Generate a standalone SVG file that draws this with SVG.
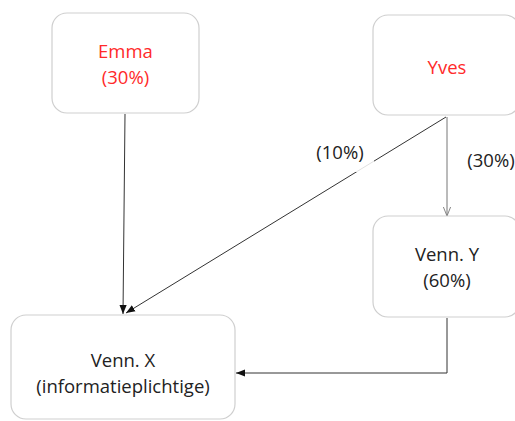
<svg xmlns="http://www.w3.org/2000/svg" width="515" height="421" viewBox="0 0 515 421">
<style>
.box{fill:#fff;stroke:#cfcfcf;stroke-width:1.2}
.t{font-family:"Open Sans","Noto Sans",sans-serif;font-size:18.5px;text-anchor:middle;fill:#222}
.r{fill:#ff2a2a}
.c{fill:none;stroke:#333;stroke-width:1}
.g{fill:none;stroke:#777;stroke-width:1}
</style>
<defs>
<marker id="solid" viewBox="0 0 10 10" refX="10" refY="5" markerWidth="9" markerHeight="9" orient="auto" markerUnits="userSpaceOnUse"><path d="M0,1 L10,5 L0,9 Z" fill="#111"/></marker>
<marker id="open" viewBox="0 0 10 10" refX="10" refY="5" markerWidth="9" markerHeight="9" orient="auto" markerUnits="userSpaceOnUse"><path d="M0,1 L10,5 L0,9" fill="none" stroke="#777" stroke-width="1"/></marker>
</defs>
<rect width="515" height="421" fill="#fff"/>
<g id="connectors">
<line class="c" x1="125" y1="114" x2="123" y2="314" marker-end="url(#solid)"/>
<line class="c" x1="446" y1="117" x2="126" y2="313" marker-end="url(#solid)"/>
<line class="g" x1="447" y1="117" x2="447" y2="216" marker-end="url(#open)"/>
<polyline class="c" points="447,318 447,373 236,373" marker-end="url(#solid)"/>
<rect x="306" y="132" width="68" height="40" fill="#fff" opacity="0.85"/>
<text class="t" x="340" y="159">(10%)</text>
<rect x="464" y="140" width="51" height="40" fill="#fff"/>
<text class="t" x="491" y="167">(30%)</text>
</g>
<g id="emma">
<rect class="box" x="52" y="13" width="147" height="100" rx="15"/>
<text class="t r" x="125.5" y="58">Emma</text>
<text class="t r" x="125.5" y="84">(30%)</text>
</g>
<g id="yves">
<rect class="box" x="373" y="15" width="147" height="100" rx="15"/>
<text class="t r" x="447" y="74">Yves</text>
</g>
<g id="vennY">
<rect class="box" x="373" y="216" width="147" height="101" rx="15"/>
<text class="t" x="447" y="261">Venn. Y</text>
<text class="t" x="447" y="287">(60%)</text>
</g>
<g id="vennX">
<rect class="box" x="11" y="315" width="224" height="104" rx="15"/>
<text class="t" x="123" y="367">Venn. X</text>
<text class="t" x="123" y="393">(informatieplichtige)</text>
</g>
</svg>
